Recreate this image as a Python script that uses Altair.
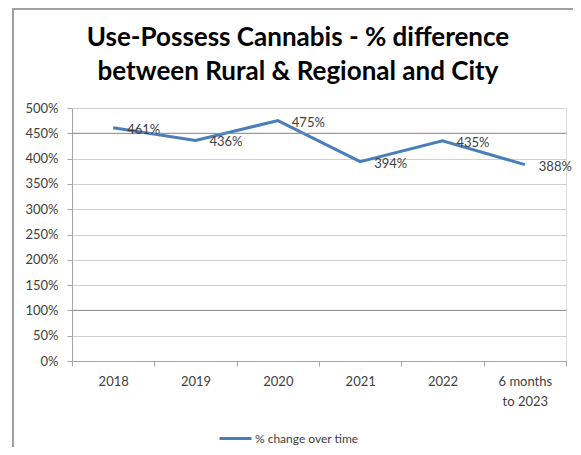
import altair as alt
import pandas as pd

categories = ["2018", "2019", "2020", "2021", "2022", "6 months to 2023"]
values = [4.61, 4.36, 4.75, 3.94, 4.35, 3.88]
series_name = "% change over time"
y_ticks = [0, 0.5, 1.0, 1.5, 2.0, 2.5, 3.0, 3.5, 4.0, 4.5, 5.0]
dark_grid = [1.0, 4.5]
title_lines = ["Use-Possess Cannabis - % difference", "between Rural & Regional and City"]

df = pd.DataFrame({"Year": categories, "Value": values, "Series": [series_name] * len(categories)})
grid_df = pd.DataFrame({"Value": dark_grid})

FONT = "Lato"
BLUE = "#4A7EBB"
TXT = "#404040"

x_scale = alt.Scale(domain=categories, paddingInner=0, paddingOuter=0)
y_scale = alt.Scale(domain=[0, 5], nice=False)

x_axis = alt.Axis(
    title=None,
    labelAngle=0,
    tickBand="extent",
    domainColor="#A6A6A6",
    tickColor="#A6A6A6",
    tickSize=5,
    labelPadding=9,
    labelFontSize=13,
    labelColor=TXT,
    labelFont=FONT,
    labelLineHeight=20,
    labelExpr="datum.value == '6 months to 2023' ? ['6 months', 'to 2023'] : datum.label",
    grid=False,
)
y_axis = alt.Axis(
    title=None,
    values=y_ticks,
    format=".0%",
    labelOverlap=False,
    domainColor="#A6A6A6",
    tickColor="#A6A6A6",
    tickSize=5,
    labelPadding=9,
    labelFontSize=13,
    labelColor=TXT,
    labelFont=FONT,
    gridColor="#D0D0D0",
    gridWidth=1,
)

x_enc = alt.X("Year:N", sort=categories, scale=x_scale, axis=x_axis)
y_enc = alt.Y("Value:Q", scale=y_scale, axis=y_axis)

line = alt.Chart(df).mark_line(strokeWidth=3, color=BLUE).encode(
    x=x_enc,
    y=y_enc,
    color=alt.Color(
        "Series:N",
        scale=alt.Scale(range=[BLUE]),
        legend=alt.Legend(
            title=None,
            orient="none",
            legendX=146,
            legendY=313,
            symbolType="stroke",
            symbolSize=1024,
            symbolStrokeWidth=3,
            labelFontSize=12,
            labelColor=TXT,
            labelFont=FONT,
            labelOffset=2,
        ),
    ),
)

dark = alt.Chart(grid_df).mark_rule(color="#8C8C8C", strokeWidth=1).encode(y=y_enc)

one = pd.DataFrame({"a": [0]})
border_left = alt.Chart(one).mark_rule(color="#A0A0A0", strokeWidth=2).encode(
    x=alt.value(-59), y=alt.value(-99), y2=alt.value(480)
)
border_top = alt.Chart(one).mark_rule(color="#A0A0A0", strokeWidth=2).encode(
    x=alt.value(-60), x2=alt.value(700), y=alt.value(-99)
)

title = alt.Chart(one).mark_text(
    text=title_lines,
    align="center",
    baseline="alphabetic",
    fontSize=26,
    fontWeight="bold",
    font=FONT,
    color="#000000",
    lineHeight=34,
).encode(x=alt.value(226), y=alt.value(-62))

labels = alt.Chart(df).mark_text(
    align="left", baseline="middle", dx=14, dy=2, fontSize=13, color=TXT, font=FONT
).encode(
    x=x_enc,
    y=y_enc,
    text=alt.Text("Value:Q", format=".0%"),
)

chart = (
    alt.layer(line, dark, labels, border_left, border_top, title)
    .properties(
        width=494,
        height=253,
        autosize=alt.AutoSizeParams(type="none"),
        padding={"left": 64, "top": 100, "right": 7, "bottom": 86},
    )
    .configure_view(stroke=None)
    .configure(background="white")
)

chart.save("out.html", embed_options={"renderer": "svg", "actions": False})
